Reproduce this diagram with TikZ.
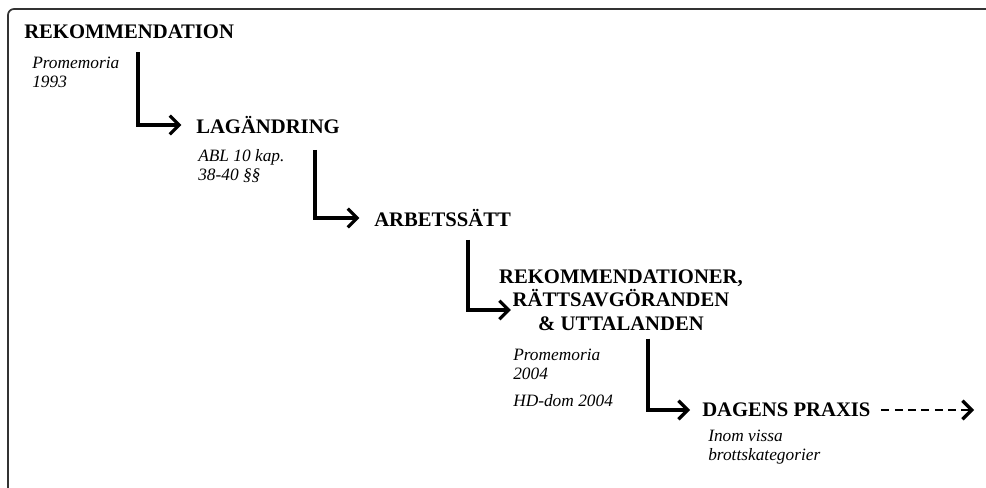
\documentclass[tikz,border=0pt]{standalone}
\usepackage{fontspec}
\setmainfont{Liberation Serif}
\usetikzlibrary{arrows.meta}
\begin{document}
\begin{tikzpicture}[x=0.75pt,y=-0.75pt,
    stage/.style={font=\fontsize{15.5}{17.5}\selectfont\bfseries,inner sep=0pt,align=center},
    note/.style={font=\fontsize{13}{14.4}\selectfont\itshape,inner sep=0pt,align=left,anchor=west},
    flow/.style={line width=2.5pt,-{Straight Barb[length=7pt,width=14pt,line width=2.4pt]}},
    ahead/.style={line width=2.2pt,dashed,dash pattern=on 6pt off 4pt,-{Straight Barb[length=7pt,width=14pt,line width=2.4pt]}}]
    \useasboundingbox (0,0) rectangle (986,488);
    \draw[line width=1.3pt,black!80,rounded corners=4.5pt] (8,490) -- (8,9) -- (990,9);
    % stages
    \node[stage,anchor=west] (rek) at (24,32) {REKOMMENDATION};
    \node[stage,anchor=west] (lag) at (196,125) {LAGÄNDRING};
    \node[stage,anchor=west] (arb) at (374,218) {ARBETSSÄTT};
    \node[stage] (rek2) at (621,300) {REKOMMENDATIONER,\\RÄTTSAVGÖRANDEN\\\& UTTALANDEN};
    \node[stage,anchor=west] (dag) at (702,410) {DAGENS PRAXIS};
    \coordinate (framtid) at (974,410);
    % sources
    \node[note] (prom1) at (32,72) {Promemoria\\1993};
    \node[note] (abl) at (198,166) {ABL 10 kap.\\38-40 §§};
    \node[note] (prom2) at (513,364) {Promemoria\\2004};
    \node[note] (hd) at (513,401) {HD-dom 2004};
    \node[note] (inom) at (708,447) {Inom vissa\\brottskategorier};
    % steps
    \draw[flow,shorten >=11pt] ([shift={(114,13)}]rek.south west) |- (lag.west);
    \draw[flow,shorten >=11pt] ([shift={(119,16)}]lag.south west) |- (arb.west);
    \draw[flow] ([shift={(94,13)}]arb.south west) |- ([shift={(12,10)}]rek2.west);
    \draw[flow,shorten >=9pt] ([shift={(27,8)}]rek2.south) |- (dag.west);
    \draw[ahead,shorten <=8pt] (dag.east) -- (framtid);
\end{tikzpicture}
\end{document}
